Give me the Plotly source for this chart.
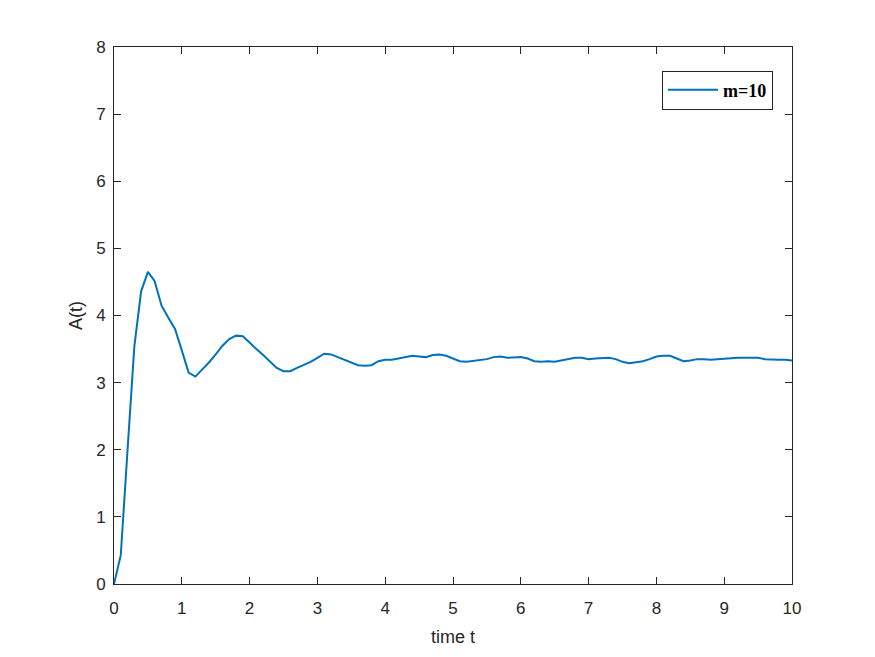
import plotly.graph_objects as go

t = [round(i * 0.1, 1) for i in range(101)]
A = [0.00, 0.43, 2.00, 3.54, 4.36, 4.65, 4.51, 4.15, 3.97, 3.80,
     3.48, 3.15, 3.09, 3.19, 3.30, 3.42, 3.55, 3.65, 3.70, 3.69,
     3.59, 3.50, 3.41, 3.31, 3.22, 3.17, 3.17, 3.22, 3.26, 3.31,
     3.37, 3.43, 3.42, 3.38, 3.33, 3.29, 3.26, 3.25, 3.26, 3.32,
     3.34, 3.34, 3.36, 3.38, 3.40, 3.39, 3.38, 3.41, 3.42, 3.40,
     3.36, 3.32, 3.31, 3.32, 3.34, 3.35, 3.38, 3.39, 3.37, 3.37,
     3.38, 3.36, 3.32, 3.31, 3.32, 3.31, 3.33, 3.36, 3.37, 3.37,
     3.35, 3.36, 3.37, 3.37, 3.35, 3.31, 3.29, 3.30, 3.32, 3.35,
     3.39, 3.40, 3.40, 3.36, 3.32, 3.33, 3.35, 3.35, 3.34, 3.35,
     3.36, 3.36, 3.37, 3.37, 3.37, 3.37, 3.35, 3.34, 3.34, 3.34,
     3.33]
series_name = "m=10"
x_ticks = [0, 1, 2, 3, 4, 5, 6, 7, 8, 9, 10]
y_ticks = [0, 1, 2, 3, 4, 5, 6, 7, 8]

fig = go.Figure()
fig.add_trace(go.Scatter(x=t, y=A, mode="lines", name="<b>" + series_name + "</b>",
                         line=dict(color="#0072BD", width=2)))

axis_common = dict(showline=True, linecolor="#262626", linewidth=1, mirror="ticks",
                   ticks="inside", ticklen=7, tickcolor="#262626", showgrid=False,
                   zeroline=False, tickfont=dict(family="Liberation Sans", size=17, color="#262626"))

fig.update_layout(
    width=875, height=657,
    margin=dict(l=114, r=83, t=47, b=73),
    paper_bgcolor="white", plot_bgcolor="white",
    xaxis=dict(range=[0, 10], tickvals=x_ticks, ticklabelstandoff=9,
               title=dict(text="time t", font=dict(family="Liberation Sans", size=18, color="#262626"), standoff=12),
               **axis_common),
    yaxis=dict(range=[0, 8], tickvals=y_ticks, ticklabelstandoff=4,
               title=dict(text="A(t)", font=dict(family="Liberation Sans", size=18, color="#262626"), standoff=8),
               **axis_common),
    legend=dict(x=0.972, y=0.956, xanchor="right", yanchor="top", itemwidth=50,
                bordercolor="#262626", borderwidth=1, bgcolor="white",
                font=dict(family="Liberation Serif", size=18, color="black")),
    showlegend=True,
)

fig.write_html("out.html")
